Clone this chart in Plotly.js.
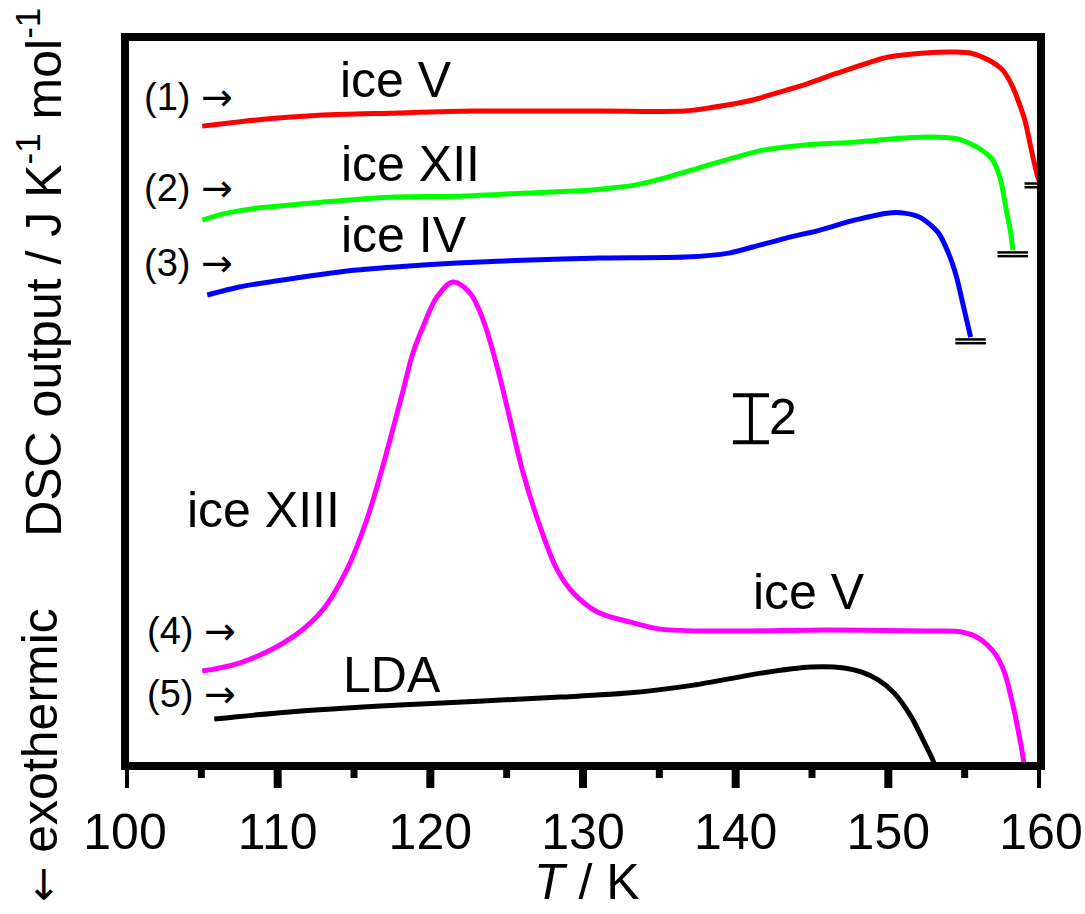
<!DOCTYPE html>
<html><head><meta charset="utf-8">
<script src="https://cdn.plot.ly/plotly-3.0.1.min.js"></script>
<style>html,body{margin:0;padding:0;background:#fff}</style>
</head><body><div id="chart" style="width:1085px;height:914px"></div>
<script>
// Temperature T / K and DSC output (J K^-1 mol^-1, arbitrary offsets)
const iceV_T   = [105.06,108.61,112.94,117.35,122.80,131.14,136.66,138.24,141.13,142.64,144.42,146.65,149.93,152.17,154.40,155.45,156.57,157.49,158.15,158.94,159.33,159.79,159.92];
const iceV_y   = [27.21,27.47,27.68,27.76,27.85,27.85,27.85,27.98,28.32,28.61,28.95,29.46,30.14,30.31,30.36,30.31,30.02,29.59,28.87,27.47,26.32,25.04,24.87];

const iceXII_T = [105.06,106.37,108.61,112.94,117.35,121.75,126.08,129.37,131.14,133.38,135.55,137.78,140.01,141.79,144.42,147.77,151.05,153.29,154.60,155.91,156.83,157.36,157.69,158.02,158.15];
const iceXII_y = [23.21,23.47,23.72,23.98,24.19,24.23,24.36,24.45,24.53,24.70,25.04,25.47,25.89,26.19,26.40,26.53,26.70,26.74,26.66,26.28,25.77,24.91,23.77,22.66,21.94];

const iceIV_T  = [105.39,107.49,110.78,115.18,119.51,121.75,126.08,131.14,136.66,139.55,141.13,143.30,145.53,147.77,149.93,151.05,152.17,153.29,153.94,154.47,154.93,155.39];
const iceIV_y  = [20.03,20.37,20.71,21.09,21.30,21.39,21.51,21.60,21.64,21.81,22.07,22.45,22.79,23.21,23.51,23.51,23.30,22.66,21.81,20.79,19.52,18.24];

const iceXIII_T = [105.06,107.69,110.97,112.94,114.52,115.83,116.82,117.23,118.15,118.86,119.51,120.43,121.48,122.60,123.46,124.38,125.23,126.08,127.20,128.32,129.37,130.95,133.11,135.09,139.49,146.06,152.63,154.80,155.91,156.96,157.62,158.08,158.54,158.87,158.95];
const iceXIII_y = [4.04,4.42,5.48,6.63,8.33,10.46,12.59,13.56,15.80,17.56,18.66,19.94,20.58,20.11,18.96,16.96,14.71,12.46,10.16,8.33,7.36,6.55,6.12,5.82,5.74,5.78,5.74,5.70,5.44,4.80,3.95,2.81,1.40,0.17,-0.3];

const LDA_T = [105.85,110.78,118.00,128.52,132.92,137.25,141.66,144.94,147.11,148.23,149.34,150.39,151.51,152.37,152.96,153.05];
const LDA_y = [2.00,2.30,2.59,2.93,3.10,3.44,3.95,4.21,4.17,4.00,3.66,3.10,2.08,0.98,0.17,-0.3];

const xRange = [100, 160];
const majorTicks = [100, 110, 120, 130, 140, 150, 160];
const minorTicks = [105, 115, 125, 135, 145, 155];

// scale bar: 2 J K^-1 mol^-1
const scaleBarT = [141.0];
const scaleBarMid = [14.77];
const scaleBarHalf = [1];

const FONT = 'Liberation Sans, Arial, sans-serif';
const ARROW_R = '<span style="font-family:\'DejaVu Sans\'">\u2192</span>';
const ARROW_L = '<span style="font-family:\'DejaVu Sans\';font-size:42px">\u2190</span>';

function curve(x, y, color, smooth) {
  return {x: x, y: y, type: 'scatter', mode: 'lines',
    line: {color: color, width: 5, shape: 'spline', smoothing: smooth || 0.7},
    hoverinfo: 'skip', showlegend: false};
}
// double-line end cap derived from a series' last point
function endCap(x, y) {
  const t = x[x.length - 1], v = y[y.length - 1];
  const d = 1.0, o1 = 0.10, o2 = 0.26;
  return {x: [t - d, t + d, null, t - d, t + d],
          y: [v - o1, v - o1, null, v - o2, v - o2],
          type: 'scatter', mode: 'lines',
          line: {color: '#000', width: 2.5}, hoverinfo: 'skip', showlegend: false};
}

const traces = [
  curve(iceV_T, iceV_y, '#ff0000'),
  curve(iceXII_T, iceXII_y, '#00ff00'),
  curve(iceIV_T, iceIV_y, '#0000ff'),
  curve(iceXIII_T, iceXIII_y, '#ff00ff', 1.0),
  curve(LDA_T, LDA_y, '#000000'),
  endCap(iceV_T, iceV_y),
  endCap(iceXII_T, iceXII_y),
  endCap(iceIV_T, iceIV_y),
  {x: scaleBarT, y: scaleBarMid, type: 'scatter', mode: 'markers',
   marker: {size: 1, color: 'rgba(0,0,0,0)'},
   error_y: {type: 'data', array: scaleBarHalf, symmetric: true, color: '#000', thickness: 4, width: 18},
   hoverinfo: 'skip', showlegend: false}
];

function lab(text, x, y, size, anchor) {
  return {text: text, x: x, y: y, xref: 'x', yref: 'y', showarrow: false,
    xanchor: anchor || 'center', yanchor: 'middle',
    font: {family: FONT, size: size, color: '#000'}};
}

const annotations = [
  lab('(1) ' + ARROW_R, 101.11, 28.44, 38, 'left'),
  lab('(2) ' + ARROW_R, 101.11, 24.57, 38, 'left'),
  lab('(3) ' + ARROW_R, 101.11, 21.39, 38, 'left'),
  lab('(4) ' + ARROW_R, 101.31, 5.74, 38, 'left'),
  lab('(5) ' + ARROW_R, 101.31, 3.06, 38, 'left'),
  lab('ice V', 117.78, 29.17, 50),
  lab('ice XII', 118.73, 25.62, 50),
  lab('ice IV', 118.30, 22.58, 50),
  lab('ice XIII', 109.10, 10.88, 50),
  lab('ice V', 144.79, 7.40, 50),
  lab('LDA', 117.52, 3.87, 50),
  lab('2', 143.09, 14.84, 50),
  {text: 'DSC output / J K<sup>-1</sup> mol<sup>-1</sup>', xref: 'paper', yref: 'paper',
   x: -0.093, y: 0.6776, textangle: -90, showarrow: false, xanchor: 'center', yanchor: 'middle',
   font: {family: FONT, size: 50, color: '#000'}},
  {text: ARROW_L + ' exothermic', xref: 'paper', yref: 'paper',
   x: -0.093, y: 0.0151, textangle: -90, showarrow: false, xanchor: 'center', yanchor: 'middle',
   font: {family: FONT, size: 50, color: '#000'}},
  {text: '<i>T</i> / K', xref: 'paper', yref: 'paper',
   x: 0.504, y: -0.159, showarrow: false, xanchor: 'center', yanchor: 'middle',
   font: {family: FONT, size: 50, color: '#000'}}
];

const plotH = 914 - 37 - 148;
function tickShape(v, len, w) {
  return {type: 'line', xref: 'x', yref: 'paper', x0: v, x1: v, y0: 0, y1: -len / plotH,
          line: {color: '#000', width: w}, layer: 'above'};
}
const shapes = [{type: 'rect', xref: 'paper', yref: 'paper', x0: 0, x1: 1, y0: 0, y1: 1,
                 line: {color: '#000', width: 8}, layer: 'above'}]
  .concat(majorTicks.map(v => tickShape(v, 22, 8)))
  .concat(minorTicks.map(v => tickShape(v, 12, 7)));

const layout = {
  width: 1085, height: 914,
  margin: {l: 125, r: 44, t: 37, b: 148, pad: 0},
  paper_bgcolor: '#fff', plot_bgcolor: '#fff',
  showlegend: false,
  font: {family: FONT, color: '#000'},
  xaxis: {
    range: xRange, tickmode: 'array', tickvals: majorTicks,
    ticks: 'outside', ticklen: 22, tickwidth: 1, tickcolor: 'rgba(0,0,0,0)',
    showgrid: false, zeroline: false, showline: false,
    tickfont: {family: FONT, size: 50, color: '#000'}
  },
  yaxis: {
    range: [0, 31], showticklabels: false, ticks: '', showgrid: false, zeroline: false, showline: false
  },
  shapes: shapes,
  annotations: annotations
};

Plotly.newPlot('chart', traces, layout, {staticPlot: true, displayModeBar: false});
</script></body></html>
